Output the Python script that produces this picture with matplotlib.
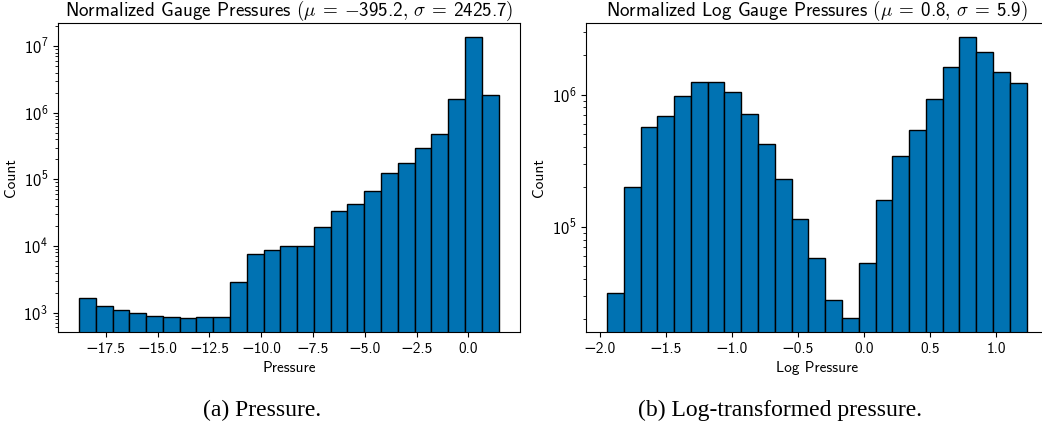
import numpy as np
import matplotlib
matplotlib.use("Agg")
import matplotlib.pyplot as plt

plt.rcParams['font.family'] = ['cmss10', 'DejaVu Sans']
plt.rcParams['mathtext.fontset'] = 'cm'
plt.rcParams['axes.unicode_minus'] = True

# Gauge pressure histogram (25 bins)
p_range = (-18.79, 1.45)
p_counts = [1660, 1275, 1083, 990, 900, 870, 832, 850, 862, 2920,
            7600, 8700, 9900, 10100, 19000, 34000, 42000, 68000, 124000, 178000,
            298000, 473000, 1.58e6, 1.38e7, 1.84e6]

# Log gauge pressure histogram (25 bins)
lp_range = (-1.945, 1.232)
lp_counts = [31300, 200000, 568000, 694000, 982000, 1.245e6, 1.245e6, 1.047e6, 711000, 422000,
             228000, 115000, 57700, 28000, 20400, 53200, 160000, 344000, 542000, 926000,
             1.61e6, 2.74e6, 2.11e6, 1.49e6, 1.22e6]

bar_color = '#0072B2'

fig = plt.figure(figsize=(10.42, 4.29), dpi=100)
W, H = 1042, 429

ax1 = fig.add_axes([58 / W, (H - 332) / H, (519.5 - 58) / W, (332 - 22.7) / H])
ax2 = fig.add_axes([586 / W, (H - 332) / H, (1047.6 - 586) / W, (332 - 22.7) / H])


def draw_hist(ax, rng, counts):
    edges = np.linspace(rng[0], rng[1], len(counts) + 1)
    ax.hist(edges[:-1], bins=edges, weights=counts, color=bar_color,
            edgecolor='black', linewidth=1.0, log=True)


draw_hist(ax1, p_range, p_counts)
draw_hist(ax2, lp_range, lp_counts)

ax1.set_title(r'Normalized Gauge Pressures '
              r'$(\mu\:=\:{-}\mathdefault{395.2},\,\sigma\:=\:\mathdefault{2425.7})$',
              fontsize=13.7, pad=4)
ax1.set_xlabel('Pressure', fontsize=11)
ax1.set_ylabel('Count', fontsize=11)

ax2.set_title(r'Normalized Log Gauge Pressures '
              r'$(\mu\:=\:\mathdefault{0.8},\,\sigma\:=\:\mathdefault{5.9})$',
              fontsize=13.7, pad=4)
ax2.set_xlabel('Log Pressure', fontsize=11)
ax2.set_ylabel('Count', fontsize=11)

for ax in (ax1, ax2):
    ax.tick_params(axis='x', labelsize=11)
    ax.tick_params(axis='y', labelsize=12)

fig.text(262 / W, 1 - 410 / H, '(a) Pressure.', family='Liberation Serif',
         fontsize=17, ha='center', va='center')
fig.text(780 / W, 1 - 410 / H, '(b) Log-transformed pressure.', family='Liberation Serif',
         fontsize=17, ha='center', va='center')

fig.savefig('out.png', dpi=100)
